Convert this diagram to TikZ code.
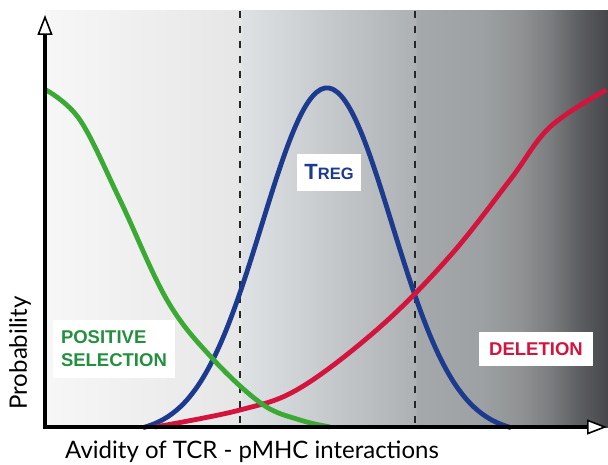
\documentclass[tikz,border=0pt]{standalone}
\usepackage{fontspec}
\setmainfont{Liberation Sans}
\newfontfamily\axisfont{Lato}
\usetikzlibrary{arrows.meta}
\definecolor{selgreen}{HTML}{3AAA35}
\definecolor{seltext}{HTML}{23903F}
\definecolor{tregblue}{HTML}{1C3A8E}
\definecolor{delred}{HTML}{D3143C}
\definecolor{bgA}{HTML}{F7F7F7}
\definecolor{bgB}{HTML}{E6E6E6}
\definecolor{bgC}{HTML}{DFE2E5}
\definecolor{bgD}{HTML}{AEB1B3}
\definecolor{bgE}{HTML}{A6A9AB}
\definecolor{bgF}{HTML}{9EA1A3}
\definecolor{bgG}{HTML}{909294}
\definecolor{bgH}{HTML}{7A7C7E}
\definecolor{bgI}{HTML}{5C5D60}
\definecolor{bgJ}{HTML}{47474B}
\pgfdeclarehorizontalshading{avidityshade}{100bp}{color(0bp)=(bgA); color(25bp)=(bgA); color(42.4bp)=(bgB); color(42.5bp)=(bgC); color(57.9bp)=(bgD); color(58bp)=(bgE); color(63.7bp)=(bgF); color(67.2bp)=(bgG); color(69.9bp)=(bgH); color(72.5bp)=(bgI); color(75bp)=(bgJ); color(100bp)=(bgJ)}
\tikzset{
    axis/.style={line width=4pt, line cap=rect, -{Triangle[length=20pt, width=15pt, fill=white, line width=1.6pt]}},
    threshold/.style={line width=2pt, draw=black!85, dash pattern=on 7pt off 8pt},
    curve/.style={line width=4.8pt, smooth, tension=0.6},
    labelbox/.style={fill=white, inner sep=0pt, font=\bfseries\fontsize{18.5}{23}\selectfont},
    axislabel/.style={font=\axisfont\fontsize{24}{28}\selectfont, inner sep=0pt}
}
\begin{document}
\begin{tikzpicture}[x=1pt, y=-1pt]
    \useasboundingbox (0,0) rectangle (608,465);

    \shade[shading=avidityshade] (45,11) rectangle (608,427);

    \coordinate (origin) at (45,427);
    \coordinate (ytop) at (45,15);
    \coordinate (xend) at (607,427);
    \coordinate (lowtop) at (240,11);
    \coordinate (lowbot) at (240,427);
    \coordinate (hightop) at (415,11);
    \coordinate (highbot) at (415,427);

    \draw [threshold] (lowtop) -- (lowbot);
    \draw [threshold] (hightop) -- (highbot);

    \draw [curve, draw=tregblue] plot[domain=143:511, samples=90] (\x, {427 - 346*(exp(-0.5*((\x-327)/65)^2) - 0.02)});
    \draw [curve, draw=delred] plot coordinates {(155,427) (240,410) (300,388) (380,327) (450,256) (510,180) (550,127) (606,90)};
    \draw [curve, draw=selgreen] plot coordinates {(46,90) (80,120) (120,200) (167,300) (212,358) (262,404) (300,420) (330,427)};

    \node (possel) [labelbox, text=seltext, align=left, text width=106pt, inner xsep=8pt, minimum height=58pt] at (114,349) {POSITIVE\\SELECTION};
    \node (treg) [labelbox, text=tregblue, minimum width=64pt, minimum height=37pt] at (329,172.5) {{\fontsize{22}{24}\selectfont T}{\fontsize{16.5}{18}\selectfont REG}};
    \node (deletion) [labelbox, text=delred, minimum width=114pt, minimum height=34pt] at (536,349) {DELETION};

    \draw [axis] (origin) -- (ytop);
    \draw [axis] (origin) -- (xend);

    \node (ylabel) [axislabel, rotate=90] at (20,353) {Probability};
    \node (xlabel) [axislabel] at (252,452) {Avidity of TCR - pMHC interactions};
\end{tikzpicture}
\end{document}
